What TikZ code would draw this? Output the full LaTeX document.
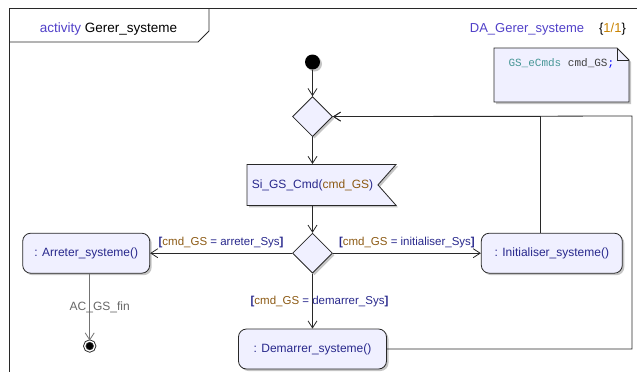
\documentclass[tikz,border=0pt]{standalone}
\usepackage{fontspec}
\setmainfont{Liberation Sans}
\setmonofont{Liberation Mono}
\usetikzlibrary{arrows.meta,positioning,shapes.geometric,shapes.symbols,shadows}
\definecolor{umlfill}{RGB}{240,240,255}
\definecolor{umlname}{RGB}{40,40,140}
\definecolor{umlkey}{RGB}{80,64,200}
\definecolor{umlvar}{RGB}{140,90,20}
\definecolor{umltype}{RGB}{70,150,150}
\definecolor{umlline}{RGB}{40,40,40}
\definecolor{umlpage}{RGB}{200,130,0}

\begin{document}
\begin{tikzpicture}[x=1pt,y=-1pt,
  font=\fontsize{12}{14}\selectfont,
  shade/.style={drop shadow={shadow xshift=2pt,shadow yshift=-2pt,fill=black!45,opacity=.5}},
  action/.style={draw=umlline, fill=umlfill, rounded corners=8pt, minimum height=40pt,
    line width=0.8pt, text=umlname, shade},
  decision/.style={diamond, aspect=1, draw=umlline, fill=umlfill, minimum width=40pt,
    minimum height=40pt, inner sep=0pt, line width=0.8pt, shade},
  receive/.style={signal, signal to=nowhere, signal from=east, signal pointer angle=97,
    draw=umlline, fill=umlfill, minimum width=149pt, minimum height=41pt,
    line width=0.8pt, text=umlname, shade},
  initial/.style={circle, fill=black, minimum size=15pt, inner sep=0pt, shade},
  final/.style={circle, fill=black, draw=umlline, double=white, double distance=1.3pt,
    minimum size=10pt, inner sep=0pt, line width=0.9pt},
  arrow/.style={-{Straight Barb[length=7pt,width=9pt]}, draw=umlline, line width=0.8pt},
  guard/.style={font=\fontsize{11.5}{13}\selectfont, text=umlname},
  frame/.style={draw=umlline, line width=0.8pt}
]
\useasboundingbox (0,0) rectangle (637,372);

% frame and header
\draw[frame] (9,372) -- (9,8) -- (637,8);
\draw[frame] (9,42) -- (198,42) -- (209,31) -- (209,8);
\node[font=\fontsize{13.5}{16}\selectfont] (title) at (108.5,29) {{\color{umlkey}activity} Gerer\_systeme};
\node[font=\fontsize{13}{16}\selectfont, text=umlkey] (header) at (527,29) {DA\_Gerer\_systeme};
\node[font=\fontsize{13}{16}\selectfont, right=8pt of header] (page) {\{{\color{umlpage}1/1}\}};

% note
\draw[frame, fill=umlfill, shade] (494,48) -- (617,48) -- (629,60) -- (629,102) -- (494,102) -- cycle;
\draw[frame] (617,48) -- (617,60) -- (629,60);
\node[anchor=west, font=\ttfamily\fontsize{11}{13}\selectfont] (decl) at (505,63)
  {{\color{umltype}GS\_eCmds} {\color{black!75}cmd\_GS}{\color{blue};}};

% activity nodes
\node[initial] (start) at (312.5,62) {};
\node[decision, below=26.5pt of start] (merge) {};
\node[receive, below=27pt of merge] (sig) {Si\_GS\_Cmd({\color{umlvar}cmd\_GS})};
\node[decision, below=27pt of sig] (decide) {};
\node[action, minimum width=127pt, left=142pt of decide] (arreter) {: Arreter\_systeme()};
\node[action, minimum width=141pt, right=148pt of decide] (init) {: Initialiser\_systeme()};
\node[action, minimum width=148pt, below=55pt of decide] (demarrer) {: Demarrer\_systeme()};
\node[final, below=67pt of arreter, xshift=3.5pt] (fin) {};
\coordinate (corner) at (632,116);

% flows
\draw[arrow] (start) -- (merge);
\draw[arrow] (merge) -- (sig);
\draw[arrow] (sig) -- (decide);
\draw[arrow] (decide) -- node[guard, midway, above, yshift=2pt]
  {\textbf{[}{\color{umlvar}cmd\_GS} = arreter\_Sys\textbf{]}} (arreter);
\draw[arrow] (decide) -- node[guard, midway, above, yshift=2pt]
  {\textbf{[}{\color{umlvar}cmd\_GS} = initialiser\_Sys\textbf{]}} (init);
\draw[arrow] (decide) -- node[guard, midway, xshift=7pt]
  {\textbf{[}{\color{umlvar}cmd\_GS} = demarrer\_Sys\textbf{]}} (demarrer);
\draw[arrow, draw=black!55] (arreter.south -| fin) -- node[midway, xshift=10pt, text=black!60]
  {AC\_GS\_fin} (fin);
\draw[arrow] ([xshift=-11.5pt]init.north) |- (merge.east);
\draw[arrow] (demarrer.east) -| (corner) -- (merge.east);
\end{tikzpicture}
\end{document}
